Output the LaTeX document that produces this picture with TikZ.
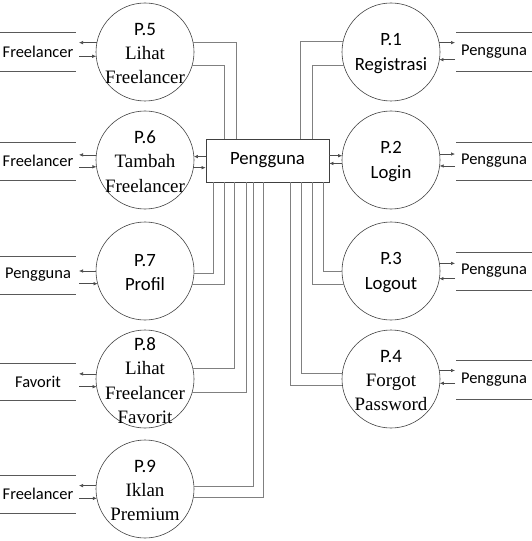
\documentclass[tikz,border=0pt]{standalone}
\usepackage{fontspec}
\setmainfont{Liberation Serif}
\newfontfamily\calib{Carlito}
\usetikzlibrary{arrows.meta,calc}
\begin{document}
\begin{tikzpicture}[x=1bp,y=-1bp,
 proc/.style={circle,draw=black!75,line width=0.6bp,minimum size=98bp,inner sep=0,outer sep=0},
 ptext/.style={align=center,font={\fontsize{19}{24.5}\selectfont},inner sep=0,yshift=-1.5bp},
 ptextc/.style={align=center,font={\calib\fontsize{18.8}{24.5}\selectfont},inner sep=0,yshift=-1.5bp},
 stxt/.style={font={\calib\fontsize{16.5}{20}\selectfont},inner sep=0},
 sline/.style={draw=black!65,line width=0.7bp},
 conn/.style={draw=black!50,line width=0.8bp},
 arr/.style={draw=black!70,line width=0.6bp,-{Latex[length=4bp,width=3.5bp]}},
 ]
\useasboundingbox (0,0) rectangle (532,541);

% processes
\node[proc] (p5) at (145,52) {};
\node[proc] (p6) at (145,160) {};
\node[proc] (p7) at (145,271) {};
\node[proc] (p8) at (145,379) {};
\node[proc] (p9) at (145,489) {};
\node[proc] (p1) at (391,52) {};
\node[proc] (p2) at (391,160) {};
\node[proc] (p3) at (391,271) {};
\node[proc] (p4) at (391,379) {};

\node[ptext] (t5) at (p5) {{\calib P.5}\\Lihat\\Freelancer};
\node[ptext] (t6) at (p6) {{\calib P.6}\\Tambah\\Freelancer};
\node[ptextc] (t7) at (p7) {P.7\\Profil};
\node[ptext] (t8) at (p8) {{\calib P.8}\\Lihat\\Freelancer\\Favorit};
\node[ptext] (t9) at (p9) {{\calib P.9}\\Iklan\\Premium};
\node[ptextc] (t1) at (p1) {P.1\\Registrasi};
\node[ptextc] (t2) at (p2) {P.2\\Login};
\node[ptextc] (t3) at (p3) {P.3\\Logout};
\node[ptext] (t4) at (p4) {{\calib P.4}\\Forgot\\Password};

% central entity
\node[draw=black!75,line width=0.7bp,minimum width=123bp,minimum height=43bp,inner sep=0,
      font={\calib\fontsize{18.8}{22}\selectfont}] (box) at (267.5,160.5) {Pengguna};

% data stores (open-ended lines)
\foreach \a/\b in {32/71,142/180,256/294,363/400,475/513}{
  \draw[sline] (0,\a) -- (76,\a) (0,\b) -- (76,\b);}
\foreach \a/\b in {32/71,142/180,252/290,360/399}{
  \draw[sline] (456,\a) -- (532,\a) (456,\b) -- (532,\b);}

\node[stxt] (s5) at (38,51.5) {Freelancer};
\node[stxt] (s6) at (38,161) {Freelancer};
\node[stxt] (s7) at (38,275) {Pengguna};
\node[stxt] (s8) at (38,381.5) {Favorit};
\node[stxt] (s9) at (38,494) {Freelancer};
\node[stxt] (s1) at (494,51.5) {Pengguna};
\node[stxt] (s2) at (494,161) {Pengguna};
\node[stxt] (s3) at (494,271) {Pengguna};
\node[stxt] (s4) at (494,379.5) {Pengguna};

\coordinate (xl) at (79,0);
\coordinate (xr) at (455,0);

% connectors from the entity
\draw[conn] (236,0 |- box.north) |- (p5.11.8);
\draw[conn] (224,0 |- box.north) |- (p5.344.6);
\draw[conn] (300,0 |- box.north) |- (p1.168.2);
\draw[conn] (312,0 |- box.north) |- (p1.196.6);
\draw[conn] (213,0 |- box.south) |- (p7.357.7);
\draw[conn] (224,0 |- box.south) |- (p7.344.6);
\draw[conn] (234,0 |- box.south) |- (p8.13);
\draw[conn] (246,0 |- box.south) |- (p8.344.6);
\draw[conn] (253,0 |- box.south) |- (p9.3.5);
\draw[conn] (263,0 |- box.south) |- (p9.350.6);
\draw[conn] (323,0 |- box.south) |- (p3.181.2);
\draw[conn] (312,0 |- box.south) |- (p3.196.6);
\draw[conn] (301,0 |- box.south) |- (p4.173);
\draw[conn] (290,0 |- box.south) |- (p4.187);

% entity <-> P.6 and P.2
\draw[arr] (box.west |- p6.4.7) -- (p6.4.7);
\draw[arr] (p6.351.8) -- (box.west |- p6.351.8);
\draw[arr] (box.east |- p2.175.3) -- (p2.175.3);
\draw[arr] (p2.184.7) -- (box.east |- p2.184.7);

% left stores
\draw[arr] (p5.169.4) -- (xl |- p5.169.4);
\draw[arr] (xl |- p5.185.9) -- (p5.185.9);
\draw[arr] (p6.174.1) -- (xl |- p6.174.1);
\draw[arr] (xl |- p6.188.2) -- (p6.188.2);
\draw[arr] (p7.180) -- (xl |- p7.180);
\draw[arr] (xl |- p7.195.4) -- (p7.195.4);
\draw[arr] (p8.174.1) -- (xl |- p8.174.1);
\draw[arr] (xl |- p8.189.4) -- (p8.189.4);
\draw[arr] (p9.176.5) -- (xl |- p9.176.5);
\draw[arr] (xl |- p9.191.8) -- (p9.191.8);

% right stores
\draw[arr] (p1.11.8) -- (xr |- p1.11.8);
\draw[arr] (xr |- p1.351.8) -- (p1.351.8);
\draw[arr] (p2.7) -- (xr |- p2.7);
\draw[arr] (xr |- p2.353) -- (p2.353);
\draw[arr] (p3.9.4) -- (xr |- p3.9.4);
\draw[arr] (xr |- p3.351.8) -- (p3.351.8);
\draw[arr] (p4.10.6) -- (xr |- p4.10.6);
\draw[arr] (xr |- p4.355.3) -- (p4.355.3);
\end{tikzpicture}
\end{document}
